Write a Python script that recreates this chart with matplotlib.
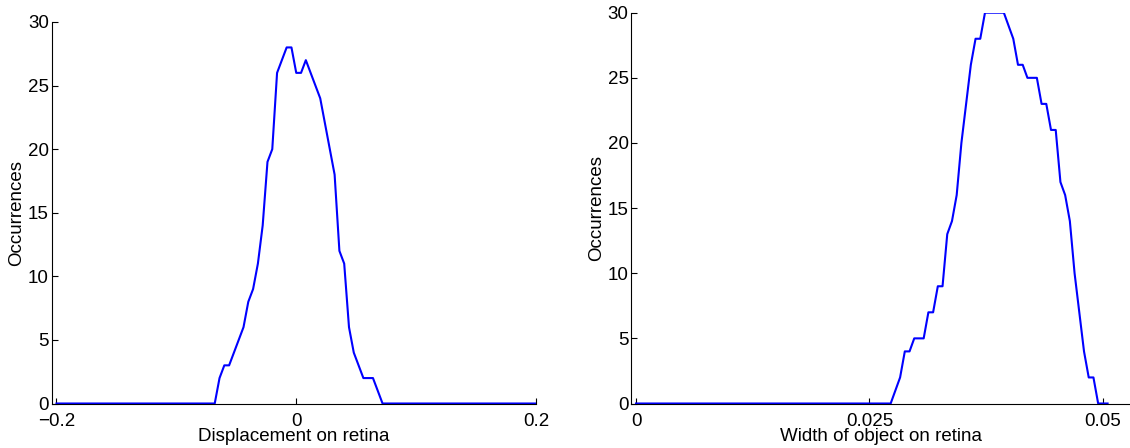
import numpy as np
import matplotlib
matplotlib.use("Agg")
import matplotlib.pyplot as plt

plt.rcParams['font.family'] = ['Liberation Sans', 'DejaVu Sans']

# histogram of displacement on retina (101 bins from -0.2 to 0.2)
disp_bins = np.linspace(-0.2, 0.2, 101)
disp_counts = [0, 0, 0, 0, 0, 0, 0, 0, 0, 0,
               0, 0, 0, 0, 0, 0, 0, 0, 0, 0,
               0, 0, 0, 0, 0, 0, 0, 0, 0, 0,
               0, 0, 0, 0, 2, 3, 3, 4, 5, 6,
               8, 9, 11, 14, 19, 20, 26, 27, 28, 28,
               26, 26, 27, 26, 25, 24, 22, 20, 18, 12,
               11, 6, 4, 3, 2, 2, 2, 1, 0, 0,
               0, 0, 0, 0, 0, 0, 0, 0, 0, 0,
               0, 0, 0, 0, 0, 0, 0, 0, 0, 0,
               0, 0, 0, 0, 0, 0, 0, 0, 0, 0,
               0]

# histogram of object width on retina (101 bins from 0 to 0.0505)
width_bins = np.linspace(0, 0.0505, 101)
width_counts = [0, 0, 0, 0, 0, 0, 0, 0, 0, 0,
                0, 0, 0, 0, 0, 0, 0, 0, 0, 0,
                0, 0, 0, 0, 0, 0, 0, 0, 0, 0,
                0, 0, 0, 0, 0, 0, 0, 0, 0, 0,
                0, 0, 0, 0, 0, 0, 0, 0, 0, 0,
                0, 0, 0, 0, 0, 1, 2, 4, 4, 5,
                5, 5, 7, 7, 9, 9, 13, 14, 16, 20,
                23, 26, 28, 28, 30, 30, 30, 30, 30, 29,
                28, 26, 26, 25, 25, 25, 23, 23, 21, 21,
                17, 16, 14, 10, 7, 4, 2, 2, 0, 0,
                0]

disp_ticks = [-0.2, 0, 0.2]
disp_ticklabels = ['\u22120.2', '0', '0.2']
width_ticks = [0, 0.025, 0.05]
width_ticklabels = ['0', '0.025', '0.05']
count_ticks = [0, 5, 10, 15, 20, 25, 30]

fs = 13.5
fig = plt.figure(figsize=(11.3, 4.48), dpi=100)
ax1 = fig.add_axes([51.7 / 1130, 44.5 / 448, 484.3 / 1130, 381.5 / 448])
ax2 = fig.add_axes([631.3 / 1130, 44.5 / 448, 498.7 / 1130, 390.8 / 448])


def style(ax):
    for s in ['top', 'right']:
        ax.spines[s].set_visible(False)
    for s in ['left', 'bottom']:
        ax.spines[s].set_linewidth(0.8)
    ax.tick_params(direction='in', length=4, width=0.8, labelsize=fs)
    ax.tick_params(axis='x', pad=6.5)
    ax.tick_params(axis='y', pad=2)
    ax.set_ylim(0, 30)
    ax.set_yticks(count_ticks)
    ax.set_ylabel('Occurrences', fontsize=fs, labelpad=2)


ax1.plot(disp_bins, disp_counts, color=(0, 0, 1), linewidth=1.5)
style(ax1)
ax1.set_xlim(-0.204, 0.2)
ax1.set_xticks(disp_ticks)
ax1.set_xticklabels(disp_ticklabels)
ax1.set_xlabel('Displacement on retina', fontsize=fs, labelpad=-1)

ax2.plot(width_bins, width_counts, color=(0, 0, 1), linewidth=1.5)
style(ax2)
ax2.set_xlim(-0.000505, 0.0529)
ax2.set_xticks(width_ticks)
ax2.set_xticklabels(width_ticklabels)
ax2.set_xlabel('Width of object on retina', fontsize=fs, labelpad=-1)

fig.savefig('out.png', dpi=100)
